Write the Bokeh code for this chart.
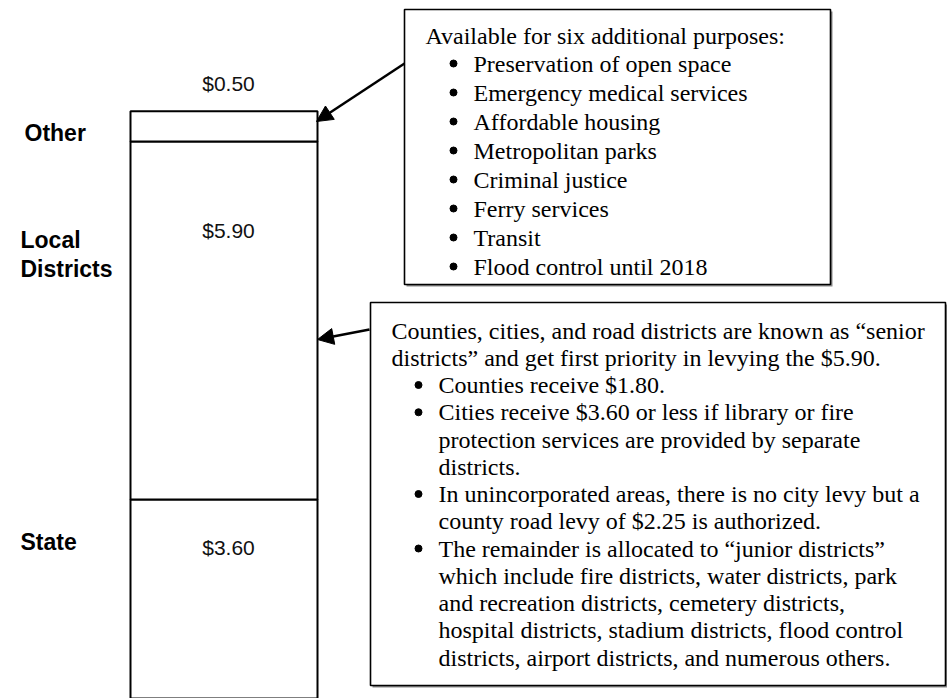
from bokeh.plotting import figure
from bokeh.models import Range1d, Arrow, NormalHead, ColumnDataSource
from bokeh.core.properties import value
from bokeh.embed import file_html
from bokeh.resources import INLINE
import numpy as np

# ---- data ----
segments = ["State", "Local\nDistricts", "Other"]
amounts = [3.60, 5.90, 0.50]

box1_title = "Available for six additional purposes:"
box1_items = [
    "Preservation of open space",
    "Emergency medical services",
    "Affordable housing",
    "Metropolitan parks",
    "Criminal justice",
    "Ferry services",
    "Transit",
    "Flood control until 2018",
]

box2_title = [
    "Counties, cities, and road districts are known as \u201csenior",
    "districts\u201d and get first priority in levying the $5.90.",
]
box2_items = [
    ["Counties receive $1.80."],
    ["Cities receive $3.60 or less if library or fire",
     "protection services are provided by separate",
     "districts."],
    ["In unincorporated areas, there is no city levy but a",
     "county road levy of $2.25 is authorized."],
    ["The remainder is allocated to \u201cjunior districts\u201d",
     "which include fire districts, water districts, park",
     "and recreation districts, cemetery districts,",
     "hospital districts, stadium districts, flood control",
     "districts, airport districts, and numerous others."],
]

# ---- layout helpers (page pixel coords -> data) ----
W, H = 947, 698
def X(sx):
    return sx
def Y(sy):
    return H - sy

PX_PER_USD = 60.68
y_state_top_px = 499.0
usd_bottom = amounts[0] - (H - y_state_top_px) / PX_PER_USD
usd_top = amounts[0] + y_state_top_px / PX_PER_USD

p = figure(width=W, height=H, output_backend="svg", toolbar_location=None,
           x_range=Range1d(0, W), y_range=Range1d(0, H), min_border=0)
p.extra_y_ranges = {"usd": Range1d(usd_bottom, usd_top)}
p.xaxis.visible = False
p.yaxis.visible = False
p.grid.visible = False
p.outline_line_color = None
p.background_fill_color = "white"
p.border_fill_color = "white"

# ---- stacked bar ----
tops = np.cumsum(amounts)
bottoms = tops - np.array(amounts)
bar_src = ColumnDataSource(dict(x=[X(223.5)] * len(amounts), top=tops, bottom=bottoms))
p.vbar(x="x", width=187, top="top", bottom="bottom", source=bar_src,
       y_range_name="usd", fill_color="white", line_color="black", line_width=2)

# segment labels
label_pos = {"State": (20, [541]), "Other": (24, [132]), "Local\nDistricts": (20, [239, 268])}
for seg in segments:
    lx, ys = label_pos[seg]
    for line, ly in zip(seg.split("\n"), ys):
        p.text(x=[X(lx)], y=[Y(ly)], text=[line], text_font=value("Liberation Sans"),
               text_font_style="bold", text_font_size="23px",
               text_baseline="middle", text_align="left", text_color="black")

# amount labels
amount_y = [547, 230, 83]
for amt, ay in zip(amounts, amount_y):
    p.text(x=[X(228)], y=[Y(ay)], text=[f"${amt:.2f}"], text_font=value("Liberation Sans"),
           text_font_size="21px", text_baseline="middle", text_align="center",
           text_color="#111111")

# ---- boxes ----
def draw_box(l, t, r, b):
    p.quad(left=[X(l) + 2], right=[X(r) + 2], top=[Y(t) - 2], bottom=[Y(b) - 2],
           fill_color="#8a8a8a", line_color=None)
    p.quad(left=[X(l)], right=[X(r)], top=[Y(t)], bottom=[Y(b)],
           fill_color="white", line_color="black", line_width=1.6)

serif = value("Liberation Serif")
FS = "24px"

# box 1
draw_box(404, 9, 830, 284)
p.text(x=[X(425)], y=[Y(35)], text=[box1_title], text_font=serif, text_font_size=FS,
       text_baseline="middle", text_align="left", text_color="black")
for i, item in enumerate(box1_items):
    yy = 63 + 29 * i
    p.scatter(x=[X(453)], y=[Y(yy)], size=7, marker="circle", color="black")
    p.text(x=[X(473)], y=[Y(yy)], text=[item], text_font=serif, text_font_size=FS,
           text_baseline="middle", text_align="left", text_color="black")

# box 2
draw_box(370, 302, 945, 685)
step = 27.25
line_i = 0
for t in box2_title:
    p.text(x=[X(391)], y=[Y(330 + step * line_i)], text=[t], text_font=serif,
           text_font_size=FS, text_baseline="middle", text_align="left",
           text_color="black")
    line_i += 1
for item in box2_items:
    p.scatter(x=[X(418)], y=[Y(330 + step * line_i)], size=7, marker="circle", color="black")
    for t in item:
        p.text(x=[X(438)], y=[Y(330 + step * line_i)], text=[t], text_font=serif,
               text_font_size=FS, text_baseline="middle", text_align="left",
               text_color="black")
        line_i += 1

# ---- arrows ----
for (x0, y0, x1, y1) in [(404, 63, 316, 121), (369, 329, 317, 339)]:
    p.add_layout(Arrow(end=NormalHead(size=16, fill_color="black", line_color="black"),
                       x_start=X(x0), y_start=Y(y0), x_end=X(x1), y_end=Y(y1),
                       line_width=2.5, line_color="black"))

open("out.html", "w").write(file_html(p, INLINE))
